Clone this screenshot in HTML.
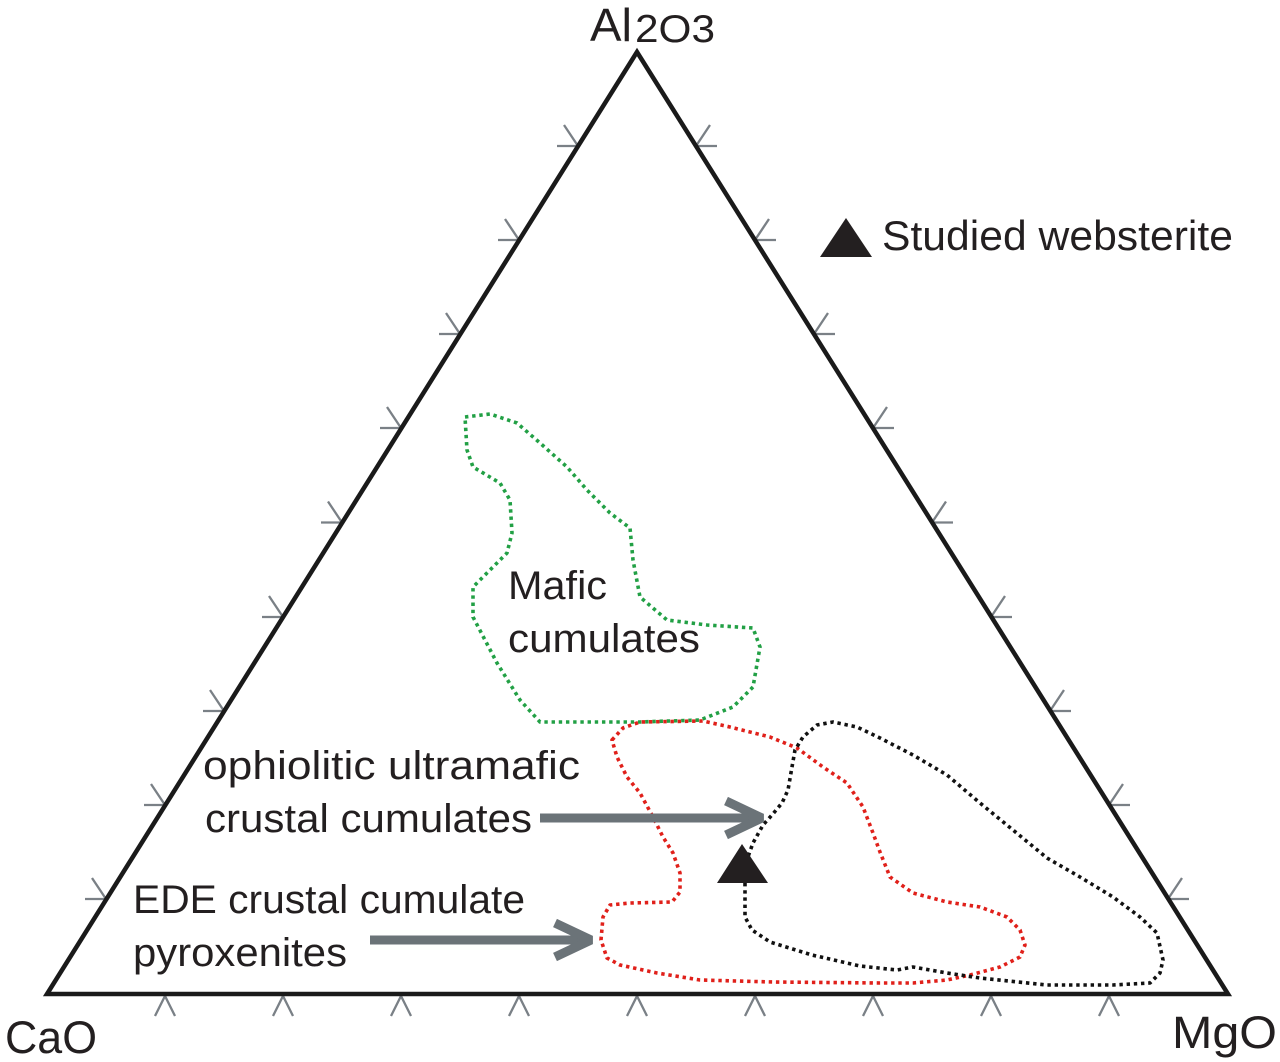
<!DOCTYPE html>
<html><head><meta charset="utf-8"><style>
html,body{margin:0;padding:0;background:#fff;}
svg{display:block;}
text{font-family:"Liberation Sans",Arial,sans-serif;fill:#231f20;}
</style></head><body>
<svg width="1280" height="1062" viewBox="0 0 1280 1062" xmlns="http://www.w3.org/2000/svg">
<rect width="1280" height="1062" fill="#fff"/>
<!-- ticks -->
<path fill="none" stroke="#7a8086" stroke-width="2.3" d="
M85,899 L106,899 M92,878 L106,899
M144,805 L165,805 M151,784 L165,805
M203,711 L224,711 M210,690 L224,711
M262,617 L283,617 M269,596 L283,617
M321,522.5 L342,522.5 M328,501.5 L342,522.5
M380,428 L401,428 M387,407 L401,428
M439,334 L460,334 M446,313 L460,334
M498,240 L519,240 M505,219 L519,240
M557,146 L578,146 M564,125 L578,146
M1189,899 L1168,899 M1182,878 L1168,899
M1130,805 L1109,805 M1123,784 L1109,805
M1071,711 L1050,711 M1064,690 L1050,711
M1012,617 L991,617 M1005,596 L991,617
M953,522.5 L932,522.5 M946,501.5 L932,522.5
M894,428 L873,428 M887,407 L873,428
M835,334 L814,334 M828,313 L814,334
M776,240 L755,240 M769,219 L755,240
M717,146 L696,146 M710,125 L696,146
M155,1016 L165,996 L175,1016
M273,1016 L283,996 L293,1016
M391,1016 L401,996 L411,1016
M509,1016 L519,996 L529,1016
M627,1016 L637,996 L647,1016
M745,1016 L755,996 L765,1016
M863,1016 L873,996 L883,1016
M981,1016 L991,996 L1001,1016
M1099,1016 L1109,996 L1119,1016
"/>
<!-- main triangle -->
<polygon points="637,52 47,994 1228,994" fill="none" stroke="#1a1a1a" stroke-width="4.5" stroke-linejoin="miter"/>

<!-- green mafic cumulates -->
<polygon fill="none" stroke="#22a045" stroke-width="3.6" stroke-dasharray="3.4 3.8" stroke-linejoin="round" points="
465,417 490,414 517,423 540,443 567,467 587,490 610,513 630,528 633,560 640,597 667,620 707,625 753,628 760,647 753,687 733,707 700,720 640,722 540,722 520,700 497,663 473,617 473,587 507,553 512,533 510,500 500,483 473,467 467,450"/>

<!-- red ophiolitic -->
<polygon fill="none" stroke="#e0201a" stroke-width="3.6" stroke-dasharray="3.4 3.8" stroke-linejoin="round" points="
612,740 623,728 640,722 703,721 730,727 770,737 797,748 823,767 847,783 863,807 873,833 880,852 890,877 913,893 947,902 980,907 1007,917 1020,930 1025,945 1020,957 1000,967 970,975 947,980 913,983 880,983 773,982 700,980 657,973 620,965 607,958 601,940 603,917 610,905 630,903 672,902 680,892 680,873 673,853 663,837 653,817 640,793 627,777 617,757"/>

<!-- black EDE -->
<polygon fill="none" stroke="#111" stroke-width="3.6" stroke-dasharray="3.4 3.8" stroke-linejoin="round" points="
745,883 745,917 752,930 770,942 812,955 860,966 897,970 913,967 947,973 980,978 1047,985 1113,985 1150,983 1160,973 1163,960 1157,933 1140,917 1113,897 1080,877 1047,858 1013,830 980,803 947,775 913,755 880,738 857,727 833,722 817,725 803,737 795,750 792,767 788,790 782,803 772,815 763,825 753,843 745,865"/>

<!-- arrows -->
<g stroke="#6b7378" stroke-width="9" fill="none">
<line x1="540" y1="818" x2="760" y2="818"/>
<polyline points="726,801 762,818 726,835" stroke-linejoin="bevel"/>
<line x1="370" y1="940" x2="588" y2="940"/>
<polyline points="555,923 591,940 555,957" stroke-linejoin="bevel"/>
</g>

<!-- data triangle -->
<polygon points="717,883 742,844 768,883" fill="#231f20"/>
<!-- legend -->
<polygon points="820,257 846,218 872,257" fill="#231f20"/>
<text x="882" y="250" font-size="42" textLength="351" lengthAdjust="spacingAndGlyphs">Studied websterite</text>

<!-- vertex labels -->
<text x="590" y="41" font-size="46" textLength="42" lengthAdjust="spacingAndGlyphs">Al</text>
<text x="635" y="42" font-size="39" textLength="80" lengthAdjust="spacingAndGlyphs">2O3</text>
<text x="5" y="1053" font-size="45" textLength="92" lengthAdjust="spacingAndGlyphs">CaO</text>
<text x="1172" y="1048" font-size="45" textLength="105" lengthAdjust="spacingAndGlyphs">MgO</text>

<!-- field labels -->
<text x="508" y="599" font-size="40" textLength="99" lengthAdjust="spacingAndGlyphs">Mafic</text>
<text x="508" y="652" font-size="40" textLength="192" lengthAdjust="spacingAndGlyphs">cumulates</text>
<text x="203" y="779" font-size="40" textLength="377" lengthAdjust="spacingAndGlyphs">ophiolitic ultramafic</text>
<text x="205" y="832" font-size="40" textLength="327" lengthAdjust="spacingAndGlyphs">crustal cumulates</text>
<text x="133" y="913" font-size="40" textLength="392" lengthAdjust="spacingAndGlyphs">EDE crustal cumulate</text>
<text x="133" y="966" font-size="40" textLength="214" lengthAdjust="spacingAndGlyphs">pyroxenites</text>
</svg>
</body></html>
